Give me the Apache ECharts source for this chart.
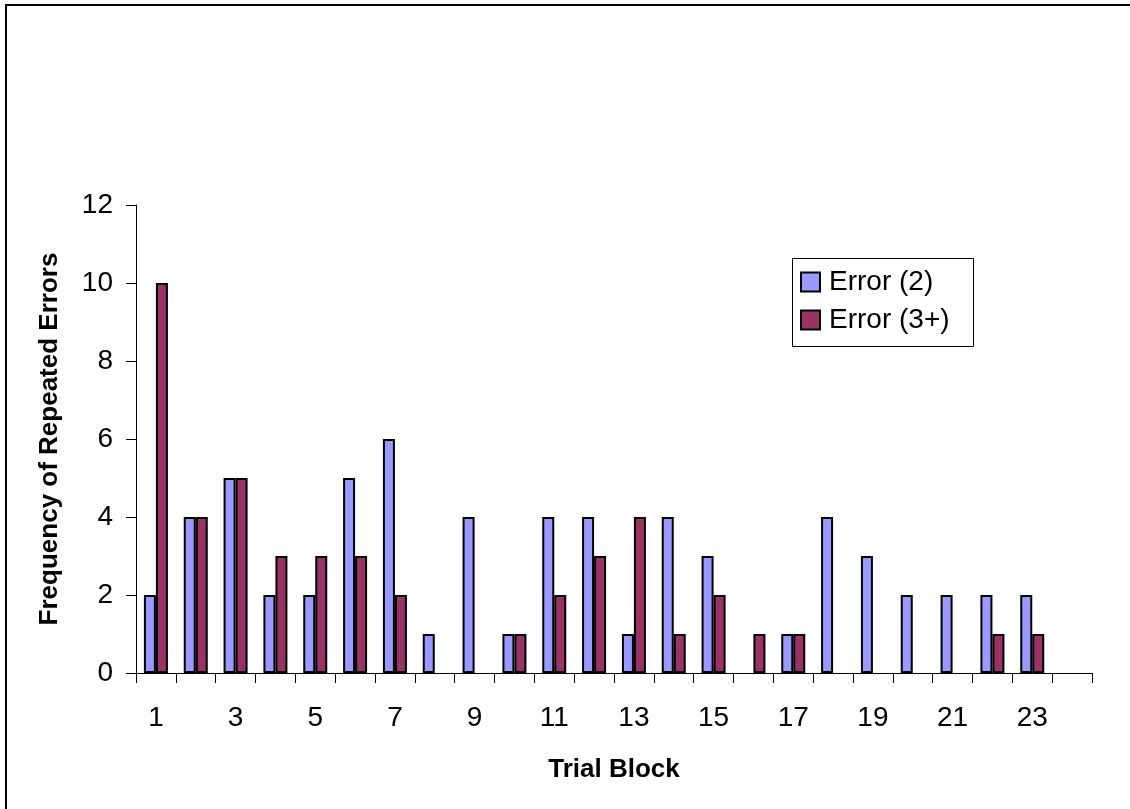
<!DOCTYPE html>
<html>
<head>
<meta charset="utf-8">
<script src="https://cdn.jsdelivr.net/npm/echarts@6/dist/echarts.min.js"></script>
<style>html,body{margin:0;padding:0;background:#fff}#c{width:1130px;height:809px}</style>
</head>
<body>
<div id="c"></div>
<script>
const categories = ['1','2','3','4','5','6','7','8','9','10','11','12','13','14','15','16','17','18','19','20','21','22','23','24'];
const error2 =  [2,4,5,2,2,5,6,1,4,1,4,4,1,4,3,0,1,4,3,2,2,2,2,0];
const error3p = [10,4,5,3,3,3,2,0,0,1,2,3,4,1,2,1,1,0,0,0,0,1,1,0];
const seriesNames = ['Error (2)', 'Error (3+)'];
const yTicks = {min: 0, max: 12, interval: 2};

// zero-height bars are not drawn in the reference
const asBars = arr => arr.map(v => (v === 0 ? '-' : v));

const FONT = '"Liberation Sans", Arial, sans-serif';
const chart = echarts.init(document.getElementById('c'), null, {renderer: 'canvas'});
chart.setOption({
  animation: false,
  backgroundColor: '#fff',
  textStyle: {fontFamily: FONT},
  grid: {left: 136, right: 38, top: 205, bottom: 136},
  graphic: [
    {type: 'rect', shape: {x: 6, y: 5, width: 1140, height: 820}, style: {fill: 'none', stroke: '#000', lineWidth: 2}, z: 100},
    {type: 'rect', shape: {x: 792.5, y: 258.5, width: 181, height: 88}, style: {fill: '#fff', stroke: '#000', lineWidth: 1}, z: 5}
  ],
  legend: {
    orient: 'vertical',
    left: 800, top: 268,
    padding: 0,
    itemWidth: 19, itemHeight: 19, itemGap: 10,
    icon: 'rect',
    z: 10,
    textStyle: {fontFamily: FONT, fontSize: 28, color: '#000', padding: [0,0,0,4]},
    itemStyle: {borderColor: '#000', borderWidth: 2},
    data: seriesNames
  },
  xAxis: {
    type: 'category',
    data: categories,
    boundaryGap: true,
    name: 'Trial Block',
    nameLocation: 'middle',
    nameGap: 84,
    nameTextStyle: {fontFamily: FONT, fontSize: 26, fontWeight: 'bold', color: '#000'},
    axisLine: {lineStyle: {color: '#000', width: 1}},
    axisTick: {show: true, interval: 0, length: 10, inside: false, alignWithLabel: false, lineStyle: {color: '#000'}},
    axisLabel: {interval: 1, margin: 31, fontSize: 28, color: '#000', fontFamily: FONT},
    splitLine: {show: false}
  },
  yAxis: {
    type: 'value',
    min: yTicks.min, max: yTicks.max, interval: yTicks.interval,
    name: 'Frequency of Repeated Errors',
    nameLocation: 'middle',
    nameGap: 73,
    nameTextStyle: {fontFamily: FONT, fontSize: 26, fontWeight: 'bold', color: '#000'},
    axisLine: {show: true, lineStyle: {color: '#000', width: 1}},
    axisTick: {show: true, length: 10, inside: false, lineStyle: {color: '#000'}},
    axisLabel: {margin: 23, fontSize: 28, color: '#000', fontFamily: FONT},
    splitLine: {show: false}
  },
  series: [
    {name: seriesNames[0], type: 'bar', data: asBars(error2), barWidth: 12, barGap: '0%',
     itemStyle: {color: '#9999FF', borderColor: '#000', borderWidth: 2}},
    {name: seriesNames[1], type: 'bar', data: asBars(error3p), barWidth: 12, barGap: '0%',
     itemStyle: {color: '#993366', borderColor: '#000', borderWidth: 2}}
  ]
});
</script>
</body>
</html>
